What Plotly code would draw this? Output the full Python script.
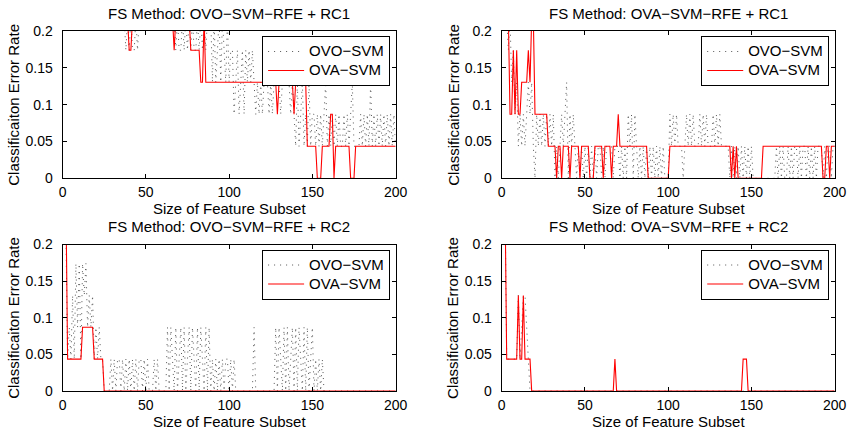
import plotly.graph_objects as go

N_TEST = 23
feature_sizes = list(range(1, 201))

# ---- FS Method: OVO-SVM-RFE + RC1 (top left) ----
tl_ovo = [
    5,5,5,5,5,5,5,5,5,5,5,5,5,5,5,5,5,5,5,5,
    5,5,5,5,5,5,5,5,5,5,5,5,5,5,5,5,5,4,5,4,
    5,4,4,5,4,5,5,5,5,5,5,5,5,5,5,5,5,5,5,5,
    5,5,5,5,5,5,5,4,5,4,4,5,4,5,4,5,4,5,4,4,
    5,4,5,4,5,4,5,5,5,3,5,3,4,5,3,5,4,3,5,3,
    4,4,2,3,4,2,3,4,2,4,3,4,3,4,3,2,3,2,3,2,
    3,3,3,2,3,2,3,3,3,3,2,3,3,3,3,3,2,3,2,1,
    3,1,2,3,1,2,1,3,1,2,2,1,2,1,2,1,2,3,1,2,
    1,2,1,2,1,2,1,1,2,1,2,1,2,3,1,1,1,1,2,1,
    2,1,2,1,3,1,2,1,2,1,2,1,2,1,2,1,2,1,2,1,
]
tl_ova = [
    5,5,5,5,5,5,5,5,5,5,5,5,5,5,5,5,5,5,5,5,
    5,5,5,5,5,5,5,5,5,5,5,5,5,5,5,5,5,5,5,4,
    4,5,5,5,5,5,5,5,5,5,5,5,5,5,5,5,5,5,5,5,
    5,5,5,5,5,5,4,5,5,5,5,5,5,5,5,5,4,4,4,4,
    4,4,3,3,5,3,3,3,3,3,3,3,3,3,3,3,3,3,3,3,
    3,3,3,3,3,3,3,3,3,3,3,3,3,3,3,3,3,3,3,3,
    3,3,3,3,3,3,3,3,2,3,3,3,3,3,3,3,3,3,2,3,
    3,3,3,3,3,3,1,1,1,1,1,1,0,0,0,1,1,1,1,1,
    2,2,0,1,1,1,1,1,1,1,1,1,0,0,0,1,1,1,1,1,
    1,1,1,1,1,1,1,1,1,1,1,1,1,1,1,1,1,1,1,1,
]

# ---- FS Method: OVA-SVM-RFE + RC1 (top right) ----
tr_ovo = [
    5,5,5,4,5,3,4,2,3,1,2,1,2,1,2,3,2,3,1,0,
    2,1,2,1,2,1,2,1,2,1,2,0,1,0,1,2,1,2,3,0,
    2,1,2,1,0,1,0,1,0,1,0,1,0,1,0,1,0,1,1,0,
    1,0,1,1,1,1,0,1,1,1,0,1,0,1,0,2,1,2,0,2,
    1,0,1,0,1,0,1,0,1,0,1,0,1,0,1,0,1,0,0,0,
    2,1,2,1,2,1,1,1,0,1,2,1,2,1,2,1,1,1,2,1,
    2,1,2,1,1,1,2,1,2,1,2,1,1,1,1,1,0,1,0,1,
    0,1,0,1,0,1,0,1,0,1,0,0,0,0,0,0,0,0,0,0,
    0,0,0,0,1,0,1,0,1,0,0,1,0,1,0,1,1,0,1,0,
    1,1,0,1,0,1,0,1,0,1,1,1,0,1,0,1,1,0,1,1,
]
tr_ova = [
    5,5,5,5,2,2,4,2,4,2,2,3,3,3,3,4,3,5,5,2,
    2,2,2,2,2,2,2,1,1,1,1,1,0,1,1,0,1,1,1,1,
    0,1,1,1,1,1,0,1,1,1,1,1,0,0,0,1,1,1,1,1,
    0,1,1,1,1,0,1,1,1,2,1,1,1,1,1,1,1,1,1,1,
    1,1,1,1,1,1,1,0,0,0,0,0,0,0,0,0,0,0,0,0,
    1,1,1,1,1,1,1,1,1,1,1,1,1,1,1,1,1,1,1,1,
    1,1,1,1,1,1,1,1,1,1,1,1,1,1,1,1,1,0,1,0,
    1,0,0,0,0,0,0,0,0,0,0,0,0,0,0,0,1,1,1,1,
    1,1,1,1,1,1,1,1,1,1,1,1,1,1,1,1,1,1,1,1,
    1,1,1,1,1,1,1,1,1,1,1,1,0,0,1,1,0,1,1,1,
]

# ---- FS Method: OVO-SVM-RFE + RC2 (bottom left) ----
bl_ovo = [
    6,5,1,2,1,3,1,4,2,4,1,4,3,4,2,3,2,3,1,2,
    1,2,1,1,0,0,0,0,1,0,1,0,1,1,0,1,0,1,0,1,
    0,1,0,1,0,1,1,0,1,0,1,0,0,0,1,0,1,0,0,0,
    0,0,2,0,2,1,0,2,0,1,2,0,2,0,1,2,0,2,1,0,
    2,0,2,1,0,2,0,2,0,1,0,1,0,1,0,1,0,1,1,0,
    1,0,1,0,0,0,0,0,0,0,0,0,0,0,2,0,0,0,0,0,
    0,0,0,0,0,0,0,2,0,2,1,0,2,0,2,0,1,2,0,2,
    0,2,1,0,2,0,2,0,1,2,0,1,0,1,0,1,0,0,0,0,
    0,0,0,0,0,0,0,0,0,0,0,0,0,0,0,0,0,0,0,0,
    0,0,0,0,0,0,0,0,0,0,0,0,0,0,0,0,0,0,0,0,
]
bl_ova = [
    6,6,1,1,1,1,1,1,1,1,1,2,2,2,2,2,2,2,1,1,
    1,1,1,1,0,0,0,0,0,0,0,0,0,0,0,0,0,0,0,0,
    0,0,0,0,0,0,0,0,0,0,0,0,0,0,0,0,0,0,0,0,
    0,0,0,0,0,0,0,0,0,0,0,0,0,0,0,0,0,0,0,0,
    0,0,0,0,0,0,0,0,0,0,0,0,0,0,0,0,0,0,0,0,
    0,0,0,0,0,0,0,0,0,0,0,0,0,0,0,0,0,0,0,0,
    0,0,0,0,0,0,0,0,0,0,0,0,0,0,0,0,0,0,0,0,
    0,0,0,0,0,0,0,0,0,0,0,0,0,0,0,0,0,0,0,0,
    0,0,0,0,0,0,0,0,0,0,0,0,0,0,0,0,0,0,0,0,
    0,0,0,0,0,0,0,0,0,0,0,0,0,0,0,0,0,0,0,0,
]

# ---- FS Method: OVA-SVM-RFE + RC2 (bottom right) ----
br_ovo = [
    6,6,1,1,1,1,1,1,1,3,1,2,3,3,2,1,0,0,0,0,
    0,0,0,0,0,0,0,0,0,0,0,0,0,0,0,0,0,0,0,0,
    0,0,0,0,0,0,0,0,0,0,0,0,0,0,0,0,0,0,0,0,
    0,0,0,0,0,0,0,0,0,0,0,0,0,0,0,0,0,0,0,0,
    0,0,0,0,0,0,0,0,0,0,0,0,0,0,0,0,0,0,0,0,
    0,0,0,0,0,0,0,0,0,0,0,0,0,0,0,0,0,0,0,0,
    0,0,0,0,0,0,0,0,0,0,0,0,0,0,0,0,0,0,0,0,
    0,0,0,0,0,0,0,0,0,0,0,0,0,0,0,0,0,0,0,0,
    0,0,0,0,0,0,0,0,0,0,0,0,0,0,0,0,0,0,0,0,
    0,0,0,0,0,0,0,0,0,0,0,0,0,0,0,0,0,0,0,0,
]
br_ova = [
    6,6,1,1,1,1,1,1,1,3,1,1,3,1,1,1,1,0,0,0,
    0,0,0,0,0,0,0,0,0,0,0,0,0,0,0,0,0,0,0,0,
    0,0,0,0,0,0,0,0,0,0,0,0,0,0,0,0,0,0,0,0,
    0,0,0,0,0,0,0,1,0,0,0,0,0,0,0,0,0,0,0,0,
    0,0,0,0,0,0,0,0,0,0,0,0,0,0,0,0,0,0,0,0,
    0,0,0,0,0,0,0,0,0,0,0,0,0,0,0,0,0,0,0,0,
    0,0,0,0,0,0,0,0,0,0,0,0,0,0,0,0,0,0,0,0,
    0,0,0,0,1,1,1,0,0,0,0,0,0,0,0,0,0,0,0,0,
    0,0,0,0,0,0,0,0,0,0,0,0,0,0,0,0,0,0,0,0,
    0,0,0,0,0,0,0,0,0,0,0,0,0,0,0,0,0,0,0,0,
]

titles = ["FS Method: OVO\u2212SVM\u2212RFE + RC1", "FS Method: OVA\u2212SVM\u2212RFE + RC1",
          "FS Method: OVO\u2212SVM\u2212RFE + RC2", "FS Method: OVA\u2212SVM\u2212RFE + RC2"]
series_names = ["OVO\u2212SVM", "OVA\u2212SVM"]
x_label = "Size of Feature Subset"
y_label = "Classificaiton Error Rate"
x_ticks = [0, 50, 100, 150, 200]
y_ticks = [0, 0.05, 0.1, 0.15, 0.2]
y_ticktext = ["0", "0.05", "0.1", "0.15", "0.2"]

for arr in (tl_ovo, tl_ova, tr_ovo, tr_ova, bl_ovo, bl_ova, br_ovo, br_ova):
    assert len(arr) == 200, len(arr)

W, H = 852, 434
FONT = "Liberation Sans, Arial, Helvetica, sans-serif"

# plot-area pixel boxes: (left, right, top, bottom)
boxes = [(62.6, 395.6, 31.0, 178.3), (501.7, 834.7, 31.0, 178.3),
         (62.6, 395.6, 244.5, 391.0), (501.7, 834.7, 244.5, 391.0)]
data = [(tl_ovo, tl_ova), (tr_ovo, tr_ova), (bl_ovo, bl_ova), (br_ovo, br_ova)]
legend_ids = ["legend", "legend2", "legend3", "legend4"]

fig = go.Figure()
layout = dict(width=W, height=H, margin=dict(l=0, r=0, t=0, b=0, autoexpand=False),
              paper_bgcolor="white", plot_bgcolor="white",
              font=dict(family=FONT, size=15, color="black"))
annotations = []


def legend_label(name):
    return "<span style='font-size:15px'>" + name + "</span>"


for i, ((l, r, t, b), (ovo, ova), lid) in enumerate(zip(boxes, data, legend_ids)):
    k = "" if i == 0 else str(i + 1)
    xa, ya = "x" + k, "y" + k
    ovo_rate = [v / N_TEST for v in ovo]
    ova_rate = [v / N_TEST for v in ova]
    fig.add_trace(go.Scatter(x=feature_sizes, y=ovo_rate, mode="lines",
                             name=legend_label(series_names[0]),
                             xaxis=xa, yaxis=ya, legend=lid,
                             line=dict(color="#555555", width=1, dash="1px,5px", simplify=False)))
    fig.add_trace(go.Scatter(x=feature_sizes, y=ova_rate, mode="lines",
                             name=legend_label(series_names[1]),
                             xaxis=xa, yaxis=ya, legend=lid,
                             line=dict(color="red", width=1.1, simplify=False)))
    axis_common = dict(ticks="inside", ticklen=4, tickcolor="black", tickwidth=1,
                       showline=True, linecolor="black", linewidth=1, mirror="ticks",
                       showgrid=False, zeroline=False, automargin=False,
                       tickfont=dict(family=FONT, size=14, color="black"))
    layout["xaxis" + k] = dict(domain=[l / W, r / W], anchor=ya, range=[0, 200],
                               tickvals=x_ticks, ticktext=[str(v) for v in x_ticks],
                               ticklabelstandoff=1, **axis_common)
    layout["yaxis" + k] = dict(domain=[1 - b / H, 1 - t / H], anchor=xa, range=[0, 0.2],
                               tickvals=y_ticks, ticktext=y_ticktext,
                               ticklabelstandoff=6, **axis_common)
    layout[lid] = dict(x=(r - 5.5) / W, y=1 - (t + 5.0) / H, xanchor="right", yanchor="top",
                       xref="paper", yref="paper",
                       bgcolor="white", bordercolor="black", borderwidth=1,
                       font=dict(family=FONT, size=12, color="black"),
                       itemwidth=36, tracegroupgap=0)
    cx = (l + r) / 2
    annotations.append(dict(text=titles[i], x=cx / W, y=1 - (t - 18) / H, xref="paper", yref="paper",
                            xanchor="center", yanchor="middle", showarrow=False,
                            font=dict(family=FONT, size=15, color="black")))
    annotations.append(dict(text=x_label, x=cx / W, y=1 - (b + 30) / H, xref="paper", yref="paper",
                            xanchor="center", yanchor="middle", showarrow=False,
                            font=dict(family=FONT, size=15, color="black")))
    annotations.append(dict(text=y_label, x=(l - 48.5) / W, y=1 - ((t + b) / 2) / H,
                            xref="paper", yref="paper", textangle=-90,
                            xanchor="center", yanchor="middle", showarrow=False,
                            font=dict(family=FONT, size=15, color="black")))

layout["annotations"] = annotations
fig.update_layout(**layout)
fig.write_html("out.html")
